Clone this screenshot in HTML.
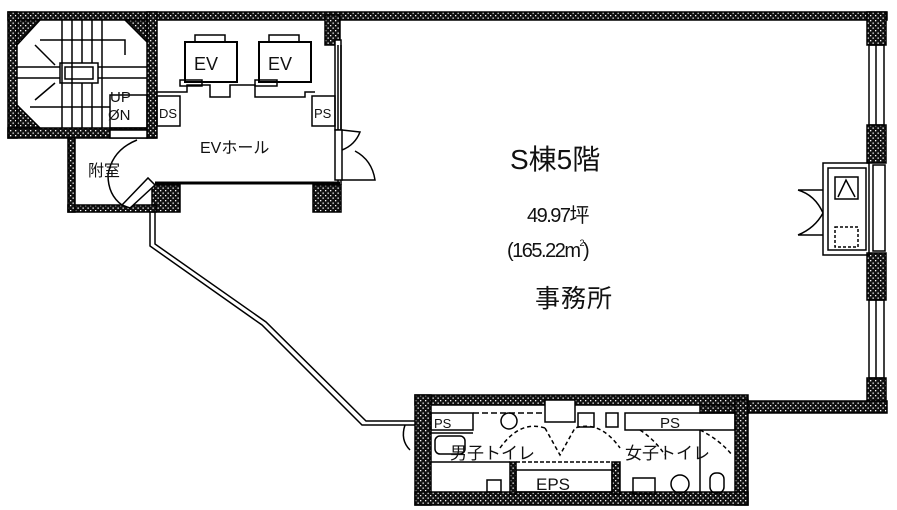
<!DOCTYPE html>
<html><head><meta charset="utf-8"><style>
html,body{margin:0;padding:0;background:#fff;}
svg{display:block;}
text{font-family:"Liberation Sans","Noto Sans CJK JP",sans-serif;fill:#111;}
</style></head><body>
<svg width="897" height="510" viewBox="0 0 897 510" xmlns="http://www.w3.org/2000/svg">
<defs>
<pattern id="h" width="5" height="5" patternUnits="userSpaceOnUse">
<rect width="5" height="5" fill="#111"/><rect x="0" y="0" width="1.3" height="1.3" fill="#fff"/><rect x="2.5" y="2.5" width="1.3" height="1.3" fill="#fff"/>
</pattern>
</defs>
<g stroke="#000" stroke-width="1.5" fill="url(#h)">
<rect x="8" y="12" width="879" height="8"/>
<rect x="8" y="12" width="9" height="126"/>
<rect x="8" y="128" width="148" height="10"/>
<rect x="147" y="12" width="10" height="126"/>
<path d="M17 20 L40 20 L17 45 Z M17 105 L40 128 L17 128 Z M125 20 L147 20 L147 42 Z"/>
<rect x="325" y="15" width="15" height="30"/>
<rect x="335" y="40" width="6" height="90" fill="#fff"/>
<rect x="867" y="12" width="19" height="33"/>
<rect x="867" y="125" width="19" height="38"/>
<rect x="867" y="253" width="19" height="47"/>
<rect x="867" y="378" width="19" height="30"/>
<rect x="700" y="401" width="187" height="12"/>
<rect x="152" y="185" width="28" height="27"/>
<rect x="313" y="185" width="28" height="27"/>
<rect x="68" y="205" width="88" height="7"/>
<rect x="68" y="138" width="7" height="74"/>
<rect x="415" y="395" width="333" height="10"/>
<rect x="415" y="395" width="16" height="110"/>
<rect x="735" y="400" width="13" height="105"/>
<rect x="415" y="492" width="333" height="13"/>
<rect x="510" y="462" width="6" height="32"/>
<rect x="612" y="462" width="8" height="32"/>
</g>
<g stroke="#000" stroke-width="1.5" fill="none">
<rect x="869" y="45" width="15" height="80"/><line x1="876" y1="45" x2="876" y2="125"/>
<rect x="869" y="300" width="15" height="78"/><line x1="876" y1="300" x2="876" y2="378"/>
<rect x="873" y="165" width="12" height="86"/>
<rect x="823" y="163" width="46" height="92"/>
<rect x="828" y="168" width="38" height="82"/>
<rect x="835" y="177" width="23" height="22"/>
<path d="M838 197 L846 180 L855 197"/>
<rect x="835" y="227" width="23" height="20" stroke-dasharray="3,2"/>
<path d="M823 190 L798 190 M823 235 L798 235 M798 190 Q815 195 823 213 M798 235 Q815 228 823 213"/>
<line x1="338" y1="45" x2="338" y2="185"/>
<line x1="341" y1="45" x2="341" y2="185"/>
<rect x="335" y="130" width="7" height="50" fill="#fff"/>
<path d="M342 130 L360 132 Q355 145 342 150 M342 180 L375 180 Q372 160 355 151"/>
<path d="M150 212 L150 246 L262 325 L362 425 L415 425"/>
<path d="M155 212 L155 244 L266 322 L366 421 L415 421"/>
<path d="M405 425 Q400 440 410 450" />
<rect x="60" y="63" width="38" height="20"/>
<rect x="65" y="67" width="28" height="12"/>
<path d="M62 20 V128 M72 20 V128 M82 20 V63 M82 83 V128 M92 20 V63 M92 83 V128 M102 20 V128 M17 67 H60 M17 78 H60 M98 67 H147 M98 78 H147 M40 40 H125 V55 M30 107 H110"/>
<path d="M35 45 L55 65 M35 100 L55 83 M110 95 V128 H147 V95 Z"/>
<text x="110" y="102" font-size="15" stroke="none">UP</text>
<text x="108" y="120" font-size="15" stroke="none">ØN</text>
<rect x="110" y="130" width="37" height="8" fill="#fff"/>
<path d="M137 140 Q112 150 108 175 Q108 195 122 205"/>
<path d="M122 205 L148 178 L155 185 L130 208 Z" fill="#fff"/>
<line x1="155" y1="183" x2="340" y2="183" stroke-width="3"/>
<line x1="157" y1="92" x2="180" y2="92"/>
<path d="M180 92 H187 V85 H210 V97 H230 V85 H255 V97 H305 V92 H315"/>
<rect x="185" y="42" width="52" height="40" stroke-width="2"/>
<rect x="195" y="35" width="30" height="7"/>
<rect x="259" y="42" width="52" height="40" stroke-width="2"/>
<rect x="269" y="35" width="30" height="7"/>
<rect x="180" y="80" width="22" height="6"/><rect x="255" y="80" width="22" height="6"/>
<rect x="157" y="96" width="23" height="30"/>
<rect x="312" y="96" width="23" height="30"/>
<rect x="431" y="413" width="42" height="17"/>
<line x1="431" y1="433" x2="473" y2="433"/>
<rect x="435" y="436" width="30" height="18" rx="5"/>
<line x1="431" y1="462" x2="510" y2="462"/>
<line x1="473" y1="413" x2="545" y2="413" stroke-dasharray="6,3"/>
<circle cx="509" cy="421" r="8"/>
<rect x="545" y="400" width="30" height="22" fill="#fff"/>
<rect x="578" y="413" width="16" height="14"/><rect x="606" y="413" width="12" height="14"/>
<rect x="625" y="413" width="110" height="17"/>
<text x="660" y="428" font-size="15" stroke="none">PS</text>
<text x="434" y="428" font-size="13" stroke="none">PS</text>
<rect x="516" y="470" width="96" height="22"/>
<text x="536" y="490" font-size="17" stroke="none">EPS</text>
<path d="M500 448 Q520 420 545 428 M545 428 L560 455 L575 428 Q600 420 620 448 M640 430 Q655 440 665 455 M700 430 Q720 440 732 455" stroke-dasharray="4,3"/>
<line x1="516" y1="462" x2="612" y2="462" stroke-dasharray="4,2"/>
<rect x="487" y="480" width="14" height="12"/>
<rect x="633" y="478" width="22" height="16"/>
<circle cx="680" cy="484" r="9"/>
<rect x="710" y="473" width="14" height="20" rx="6"/>
<line x1="700" y1="430" x2="700" y2="492"/>
</g>
<g stroke="none">
<text x="194" y="70" font-size="18">EV</text>
<text x="268" y="70" font-size="18">EV</text>
<text x="159" y="118" font-size="13">DS</text>
<text x="314" y="118" font-size="13">PS</text>
<text x="200" y="153" font-size="16">EVホール</text>
<text x="88" y="176" font-size="16">附室</text>
<text x="450" y="459" font-size="17">男子トイレ</text>
<text x="625" y="459" font-size="17">女子トイレ</text>
<text x="510" y="169" font-size="28">S棟5階</text>
<text x="527" y="222" font-size="20" letter-spacing="-1.5">49.97坪</text>
<text x="507" y="257" font-size="20" letter-spacing="-1.5">(165.22m<tspan font-size="9" dy="-11">2</tspan><tspan dy="11">)</tspan></text>
<text x="535" y="307" font-size="25" letter-spacing="1">事務所</text>
</g>
</svg>
</body></html>
